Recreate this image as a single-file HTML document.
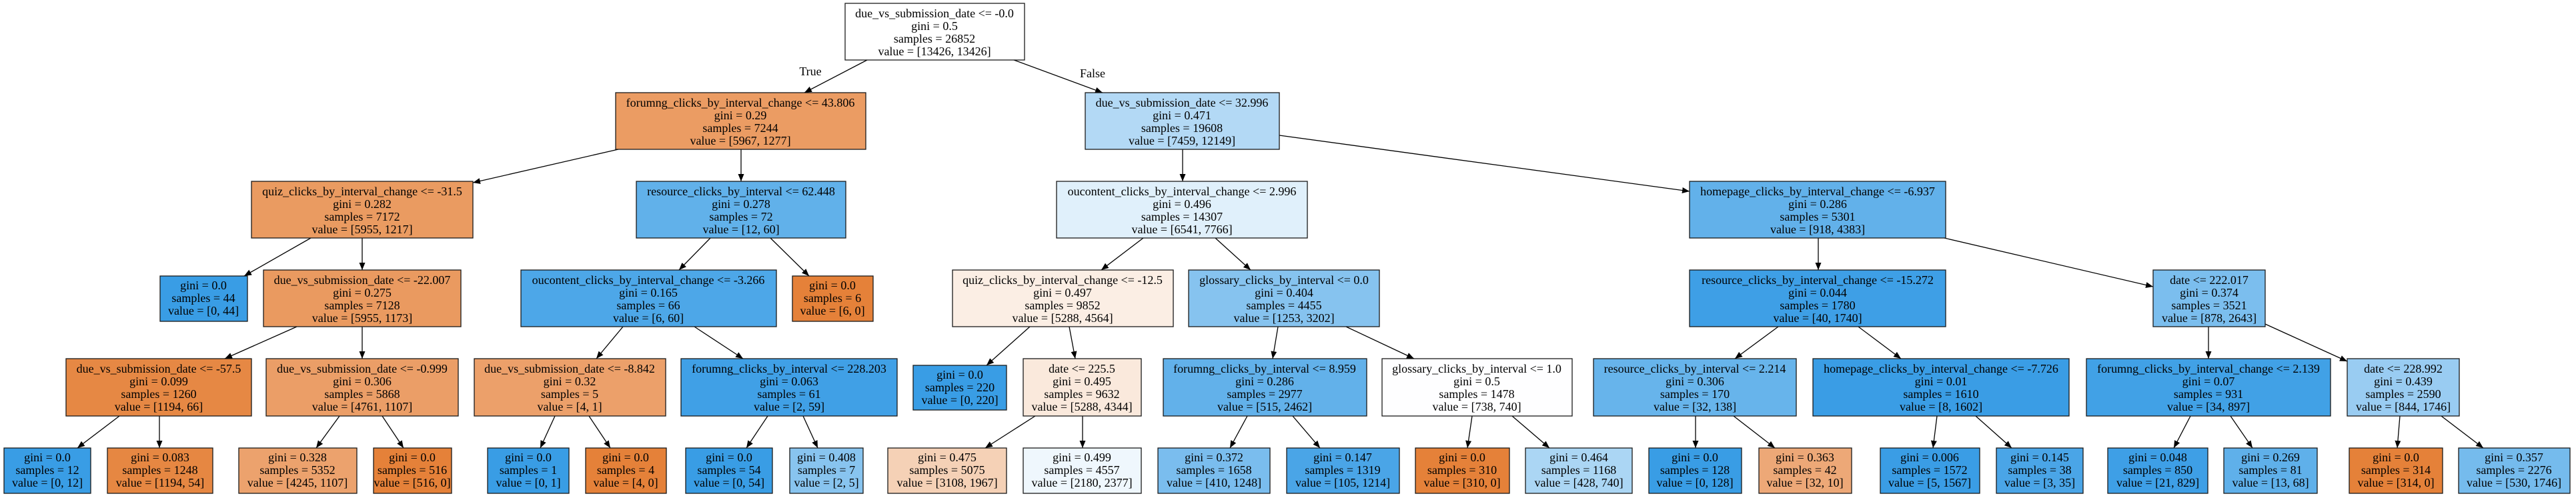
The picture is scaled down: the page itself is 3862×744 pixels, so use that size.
<!DOCTYPE html>
<html><head><meta charset="utf-8"><style>
html,body{margin:0;padding:0;background:#fff}
svg{display:block}
text{font-family:"Liberation Serif",serif;font-size:18px;text-anchor:middle;fill:#000}
rect{stroke:#1a1a1a;stroke-width:1.3}
line{stroke:#000;stroke-width:1.3}
</style></head><body>
<svg width="3862" height="744" viewBox="0 0 3862 744" xmlns="http://www.w3.org/2000/svg">
<defs><marker id="a" markerUnits="userSpaceOnUse" markerWidth="12" markerHeight="9" refX="11" refY="4.5" orient="auto"><polygon points="0,0 11,4.5 0,9" fill="#000"/></marker></defs>
<g marker-end="url(#a)">
<line x1="1300" y1="90" x2="1206" y2="139"/>
<line x1="1520" y1="90" x2="1653" y2="139"/>
<line x1="927" y1="224" x2="709" y2="274"/>
<line x1="1111" y1="224" x2="1111" y2="272"/>
<line x1="466" y1="357" x2="366" y2="414"/>
<line x1="543" y1="357" x2="543" y2="405"/>
<line x1="1065" y1="357" x2="1018" y2="405"/>
<line x1="1155" y1="357" x2="1213" y2="414"/>
<line x1="445" y1="490" x2="337" y2="538"/>
<line x1="543" y1="490" x2="543" y2="538"/>
<line x1="934" y1="490" x2="894" y2="538"/>
<line x1="1041" y1="490" x2="1114" y2="538"/>
<line x1="179" y1="624" x2="116" y2="672"/>
<line x1="239" y1="624" x2="239" y2="672"/>
<line x1="509" y1="624" x2="474" y2="672"/>
<line x1="573" y1="624" x2="605" y2="672"/>
<line x1="832" y1="624" x2="810" y2="672"/>
<line x1="883" y1="624" x2="915" y2="672"/>
<line x1="1151" y1="624" x2="1119" y2="672"/>
<line x1="1204" y1="624" x2="1226" y2="672"/>
<line x1="1773" y1="224" x2="1773" y2="272"/>
<line x1="1918" y1="203" x2="2533" y2="287"/>
<line x1="1714" y1="357" x2="1651" y2="405"/>
<line x1="1822" y1="357" x2="1875" y2="405"/>
<line x1="1544" y1="490" x2="1479" y2="548"/>
<line x1="1603" y1="490" x2="1612" y2="538"/>
<line x1="1916" y1="490" x2="1908" y2="538"/>
<line x1="2018" y1="490" x2="2120" y2="538"/>
<line x1="1552" y1="624" x2="1477" y2="672"/>
<line x1="1623" y1="624" x2="1623" y2="672"/>
<line x1="1870" y1="624" x2="1844" y2="672"/>
<line x1="1938" y1="624" x2="1979" y2="672"/>
<line x1="2207" y1="624" x2="2200" y2="672"/>
<line x1="2267" y1="624" x2="2323" y2="672"/>
<line x1="2542" y1="624" x2="2542" y2="672"/>
<line x1="2599" y1="624" x2="2661" y2="672"/>
<line x1="2726" y1="357" x2="2726" y2="405"/>
<line x1="2915" y1="357" x2="3228" y2="430"/>
<line x1="2666" y1="490" x2="2601" y2="538"/>
<line x1="2786" y1="490" x2="2850" y2="538"/>
<line x1="3311" y1="490" x2="3311" y2="538"/>
<line x1="3396" y1="486" x2="3519" y2="542"/>
<line x1="2904" y1="624" x2="2898" y2="672"/>
<line x1="2962" y1="624" x2="3016" y2="672"/>
<line x1="3284" y1="624" x2="3259" y2="672"/>
<line x1="3344" y1="624" x2="3377" y2="672"/>
<line x1="3598" y1="624" x2="3594" y2="672"/>
<line x1="3660" y1="624" x2="3723" y2="672"/>
</g>
<text x="1215" y="113">True</text>
<text x="1638" y="116">False</text>

<!-- row0 -->
<rect x="1267" y="5" width="269" height="85" fill="#ffffff"/>
<text x="1401" y="26">due_vs_submission_date &lt;= -0.0</text><text x="1401" y="45">gini = 0.5</text><text x="1401" y="64">samples = 26852</text><text x="1401" y="83">value = [13426, 13426]</text>

<!-- row1 -->
<rect x="923" y="139" width="375" height="85" fill="#eb9c63"/>
<text x="1110" y="160">forumng_clicks_by_interval_change &lt;= 43.806</text><text x="1110" y="179">gini = 0.29</text><text x="1110" y="198">samples = 7244</text><text x="1110" y="217">value = [5967, 1277]</text>
<rect x="1627" y="139" width="291" height="85" fill="#b3d9f5"/>
<text x="1772" y="160">due_vs_submission_date &lt;= 32.996</text><text x="1772" y="179">gini = 0.471</text><text x="1772" y="198">samples = 19608</text><text x="1772" y="217">value = [7459, 12149]</text>

<!-- row2 -->
<rect x="377" y="272" width="332" height="85" fill="#ea9b61"/>
<text x="543" y="293">quiz_clicks_by_interval_change &lt;= -31.5</text><text x="543" y="312">gini = 0.282</text><text x="543" y="331">samples = 7172</text><text x="543" y="350">value = [5955, 1217]</text>
<rect x="954" y="272" width="314" height="85" fill="#61b1ea"/>
<text x="1111" y="293">resource_clicks_by_interval &lt;= 62.448</text><text x="1111" y="312">gini = 0.278</text><text x="1111" y="331">samples = 72</text><text x="1111" y="350">value = [12, 60]</text>
<rect x="1584" y="272" width="376" height="85" fill="#e0f0fb"/>
<text x="1772" y="293">oucontent_clicks_by_interval_change &lt;= 2.996</text><text x="1772" y="312">gini = 0.496</text><text x="1772" y="331">samples = 14307</text><text x="1772" y="350">value = [6541, 7766]</text>
<rect x="2533" y="272" width="384" height="85" fill="#62b1ea"/>
<text x="2725" y="293">homepage_clicks_by_interval_change &lt;= -6.937</text><text x="2725" y="312">gini = 0.286</text><text x="2725" y="331">samples = 5301</text><text x="2725" y="350">value = [918, 4383]</text>

<!-- row3 -->
<rect x="240" y="414" width="131" height="68" fill="#399de5"/>
<text x="305" y="434">gini = 0.0</text><text x="305" y="453">samples = 44</text><text x="305" y="472">value = [0, 44]</text>
<rect x="395" y="405" width="296" height="85" fill="#ea9a60"/>
<text x="543" y="426">due_vs_submission_date &lt;= -22.007</text><text x="543" y="445">gini = 0.275</text><text x="543" y="464">samples = 7128</text><text x="543" y="483">value = [5955, 1173]</text>
<rect x="781" y="405" width="383" height="85" fill="#4da7e8"/>
<text x="972" y="426">oucontent_clicks_by_interval_change &lt;= -3.266</text><text x="972" y="445">gini = 0.165</text><text x="972" y="464">samples = 66</text><text x="972" y="483">value = [6, 60]</text>
<rect x="1188" y="414" width="121" height="68" fill="#e58139"/>
<text x="1248" y="434">gini = 0.0</text><text x="1248" y="453">samples = 6</text><text x="1248" y="472">value = [6, 0]</text>
<rect x="1428" y="405" width="331" height="85" fill="#fbeee4"/>
<text x="1593" y="426">quiz_clicks_by_interval_change &lt;= -12.5</text><text x="1593" y="445">gini = 0.497</text><text x="1593" y="464">samples = 9852</text><text x="1593" y="483">value = [5288, 4564]</text>
<rect x="1782" y="405" width="286" height="85" fill="#86c3ef"/>
<text x="1925" y="426">glossary_clicks_by_interval &lt;= 0.0</text><text x="1925" y="445">gini = 0.404</text><text x="1925" y="464">samples = 4455</text><text x="1925" y="483">value = [1253, 3202]</text>
<rect x="2533" y="405" width="384" height="85" fill="#3e9fe6"/>
<text x="2725" y="426">resource_clicks_by_interval_change &lt;= -15.272</text><text x="2725" y="445">gini = 0.044</text><text x="2725" y="464">samples = 1780</text><text x="2725" y="483">value = [40, 1740]</text>
<rect x="3228" y="405" width="168" height="85" fill="#7bbeee"/>
<text x="3312" y="426">date &lt;= 222.017</text><text x="3312" y="445">gini = 0.374</text><text x="3312" y="464">samples = 3521</text><text x="3312" y="483">value = [878, 2643]</text>

<!-- row4 -->
<rect x="99" y="538" width="278" height="86" fill="#e68844"/>
<text x="238" y="559">due_vs_submission_date &lt;= -57.5</text><text x="238" y="578">gini = 0.099</text><text x="238" y="597">samples = 1260</text><text x="238" y="616">value = [1194, 66]</text>
<rect x="399" y="538" width="288" height="86" fill="#eb9e67"/>
<text x="543" y="559">due_vs_submission_date &lt;= -0.999</text><text x="543" y="578">gini = 0.306</text><text x="543" y="597">samples = 5868</text><text x="543" y="616">value = [4761, 1107]</text>
<rect x="711" y="538" width="287" height="86" fill="#eca06a"/>
<text x="854" y="559">due_vs_submission_date &lt;= -8.842</text><text x="854" y="578">gini = 0.32</text><text x="854" y="597">samples = 5</text><text x="854" y="616">value = [4, 1]</text>
<rect x="1021" y="538" width="324" height="86" fill="#40a0e6"/>
<text x="1183" y="559">forumng_clicks_by_interval &lt;= 228.203</text><text x="1183" y="578">gini = 0.063</text><text x="1183" y="597">samples = 61</text><text x="1183" y="616">value = [2, 59]</text>
<rect x="1369" y="548" width="140" height="67" fill="#399de5"/>
<text x="1439" y="568">gini = 0.0</text><text x="1439" y="587">samples = 220</text><text x="1439" y="606">value = [0, 220]</text>
<rect x="1534" y="538" width="177" height="86" fill="#fae9dc"/>
<text x="1622" y="559">date &lt;= 225.5</text><text x="1622" y="578">gini = 0.495</text><text x="1622" y="597">samples = 9632</text><text x="1622" y="616">value = [5288, 4344]</text>
<rect x="1744" y="538" width="305" height="86" fill="#62b1ea"/>
<text x="1896" y="559">forumng_clicks_by_interval &lt;= 8.959</text><text x="1896" y="578">gini = 0.286</text><text x="1896" y="597">samples = 2977</text><text x="1896" y="616">value = [515, 2462]</text>
<rect x="2072" y="538" width="285" height="86" fill="#fefeff"/>
<text x="2214" y="559">glossary_clicks_by_interval &lt;= 1.0</text><text x="2214" y="578">gini = 0.5</text><text x="2214" y="597">samples = 1478</text><text x="2214" y="616">value = [738, 740]</text>
<rect x="2389" y="538" width="304" height="86" fill="#67b4eb"/>
<text x="2541" y="559">resource_clicks_by_interval &lt;= 2.214</text><text x="2541" y="578">gini = 0.306</text><text x="2541" y="597">samples = 170</text><text x="2541" y="616">value = [32, 138]</text>
<rect x="2718" y="538" width="384" height="86" fill="#3a9de5"/>
<text x="2910" y="559">homepage_clicks_by_interval_change &lt;= -7.726</text><text x="2910" y="578">gini = 0.01</text><text x="2910" y="597">samples = 1610</text><text x="2910" y="616">value = [8, 1602]</text>
<rect x="3128" y="538" width="366" height="86" fill="#41a1e6"/>
<text x="3311" y="559">forumng_clicks_by_interval_change &lt;= 2.139</text><text x="3311" y="578">gini = 0.07</text><text x="3311" y="597">samples = 931</text><text x="3311" y="616">value = [34, 897]</text>
<rect x="3519" y="538" width="168" height="86" fill="#99ccf2"/>
<text x="3603" y="559">date &lt;= 228.992</text><text x="3603" y="578">gini = 0.439</text><text x="3603" y="597">samples = 2590</text><text x="3603" y="616">value = [844, 1746]</text>

<!-- leaves -->
<rect x="6" y="672" width="130" height="68" fill="#399de5"/>
<text x="71" y="692">gini = 0.0</text><text x="71" y="711">samples = 12</text><text x="71" y="730">value = [0, 12]</text>
<rect x="161" y="672" width="158" height="68" fill="#e68742"/>
<text x="240" y="692">gini = 0.083</text><text x="240" y="711">samples = 1248</text><text x="240" y="730">value = [1194, 54]</text>
<rect x="358" y="672" width="177" height="68" fill="#eca26d"/>
<text x="446" y="692">gini = 0.328</text><text x="446" y="711">samples = 5352</text><text x="446" y="730">value = [4245, 1107]</text>
<rect x="560" y="672" width="117" height="68" fill="#e58139"/>
<text x="618" y="692">gini = 0.0</text><text x="618" y="711">samples = 516</text><text x="618" y="730">value = [516, 0]</text>
<rect x="731" y="672" width="122" height="68" fill="#399de5"/>
<text x="792" y="692">gini = 0.0</text><text x="792" y="711">samples = 1</text><text x="792" y="730">value = [0, 1]</text>
<rect x="878" y="672" width="121" height="68" fill="#e58139"/>
<text x="938" y="692">gini = 0.0</text><text x="938" y="711">samples = 4</text><text x="938" y="730">value = [4, 0]</text>
<rect x="1028" y="672" width="130" height="68" fill="#399de5"/>
<text x="1093" y="692">gini = 0.0</text><text x="1093" y="711">samples = 54</text><text x="1093" y="730">value = [0, 54]</text>
<rect x="1184" y="672" width="110" height="68" fill="#88c4ef"/>
<text x="1239" y="692">gini = 0.408</text><text x="1239" y="711">samples = 7</text><text x="1239" y="730">value = [2, 5]</text>
<rect x="1331" y="672" width="178" height="68" fill="#f5d1b6"/>
<text x="1420" y="692">gini = 0.475</text><text x="1420" y="711">samples = 5075</text><text x="1420" y="730">value = [3108, 1967]</text>
<rect x="1534" y="672" width="177" height="68" fill="#eff7fd"/>
<text x="1622" y="692">gini = 0.499</text><text x="1622" y="711">samples = 4557</text><text x="1622" y="730">value = [2180, 2377]</text>
<rect x="1736" y="672" width="168" height="68" fill="#7abdee"/>
<text x="1820" y="692">gini = 0.372</text><text x="1820" y="711">samples = 1658</text><text x="1820" y="730">value = [410, 1248]</text>
<rect x="1929" y="672" width="169" height="68" fill="#4aa5e7"/>
<text x="2013" y="692">gini = 0.147</text><text x="2013" y="711">samples = 1319</text><text x="2013" y="730">value = [105, 1214]</text>
<rect x="2122" y="672" width="141" height="68" fill="#e58139"/>
<text x="2192" y="692">gini = 0.0</text><text x="2192" y="711">samples = 310</text><text x="2192" y="730">value = [310, 0]</text>
<rect x="2287" y="672" width="160" height="68" fill="#abd6f4"/>
<text x="2367" y="692">gini = 0.464</text><text x="2367" y="711">samples = 1168</text><text x="2367" y="730">value = [428, 740]</text>
<rect x="2472" y="672" width="139" height="68" fill="#399de5"/>
<text x="2541" y="692">gini = 0.0</text><text x="2541" y="711">samples = 128</text><text x="2541" y="730">value = [0, 128]</text>
<rect x="2637" y="672" width="139" height="68" fill="#eda877"/>
<text x="2706" y="692">gini = 0.363</text><text x="2706" y="711">samples = 42</text><text x="2706" y="730">value = [32, 10]</text>
<rect x="2819" y="672" width="149" height="68" fill="#3a9de5"/>
<text x="2893" y="692">gini = 0.006</text><text x="2893" y="711">samples = 1572</text><text x="2893" y="730">value = [5, 1567]</text>
<rect x="2993" y="672" width="130" height="68" fill="#4aa5e7"/>
<text x="3058" y="692">gini = 0.145</text><text x="3058" y="711">samples = 38</text><text x="3058" y="730">value = [3, 35]</text>
<rect x="3160" y="672" width="150" height="68" fill="#3e9fe6"/>
<text x="3235" y="692">gini = 0.048</text><text x="3235" y="711">samples = 850</text><text x="3235" y="730">value = [21, 829]</text>
<rect x="3334" y="672" width="140" height="68" fill="#5fb0ea"/>
<text x="3404" y="692">gini = 0.269</text><text x="3404" y="711">samples = 81</text><text x="3404" y="730">value = [13, 68]</text>
<rect x="3522" y="672" width="140" height="68" fill="#e58139"/>
<text x="3592" y="692">gini = 0.0</text><text x="3592" y="711">samples = 314</text><text x="3592" y="730">value = [314, 0]</text>
<rect x="3686" y="672" width="167" height="68" fill="#75bbed"/>
<text x="3769" y="692">gini = 0.357</text><text x="3769" y="711">samples = 2276</text><text x="3769" y="730">value = [530, 1746]</text>
</svg>
</body></html>
